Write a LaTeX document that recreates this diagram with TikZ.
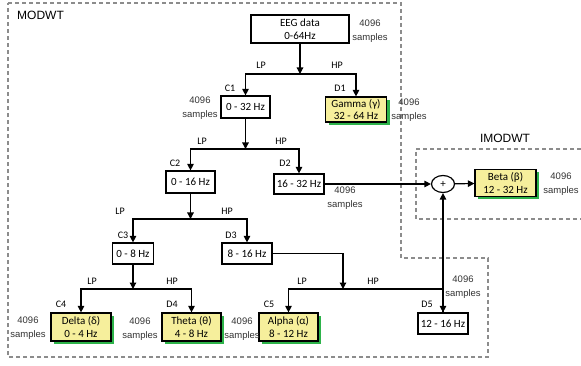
\documentclass[tikz,border=0pt]{standalone}
\usepackage{fontspec}
\setmainfont{Carlito}
\newfontfamily\arialfont{Liberation Sans}
\usepackage{tikz}
\usepackage{xcolor}
\usetikzlibrary{arrows.meta, shapes.geometric, shadows}
\definecolor{bandfill}{HTML}{F6EF9C}
\definecolor{bandshadow}{HTML}{2DB34A}
\definecolor{framegray}{HTML}{8C8C8C}
\definecolor{sampletext}{HTML}{333333}
\begin{document}
\begin{tikzpicture}[x=1pt, y=-1pt,
            >={Triangle[length=6.5pt, width=6.5pt]},
            box/.style={draw, line width=1.2pt, fill=white, inner sep=1pt, align=center, font=\fontsize{11}{12.5}\selectfont},
            band/.style={box, fill=bandfill, general shadow={fill=bandshadow, shadow xshift=3pt, shadow yshift=-3pt}},
            tag/.style={font=\fontsize{10}{11}\selectfont, inner sep=0pt},
            samplenote/.style={align=center, text=sampletext, font=\arialfont\fontsize{9.5}{14}\selectfont, inner sep=0pt},
            frame/.style={framegray, line width=1.1pt, dash pattern=on 4pt off 3pt},
            title/.style={font=\arialfont\fontsize{12}{13}\selectfont, inner sep=0pt},
            link/.style={line width=1.2pt}]
            \useasboundingbox (0,0) rectangle (581,366);
            \draw[frame] (8,3) -- (401,3) -- (401,258) -- (488,258) -- (488,357) -- (8,357) -- cycle;
            \draw[frame] (581,149) -- (416,149) -- (416,219) -- (581,219);
            \node[title, anchor=west] (modwt) at (17,15) {MODWT};
            \node[title] (imodwt) at (505,138) {IMODWT};
            \node[box, minimum width=98pt, minimum height=28pt] (eeg) at (300,29) {EEG data\\0-64Hz};
            \node[box, minimum width=49pt, minimum height=22pt] (c1) at (245.5,107) {0 - 32 Hz};
            \node[band, minimum width=61pt, minimum height=25pt] (gamma) at (356,109.5) {Gamma (γ)\\32 - 64 Hz};
            \node[box, minimum width=49pt, minimum height=22pt] (c2) at (190.5,182) {0 - 16 Hz};
            \node[box, minimum width=50pt, minimum height=20pt] (d2) at (299,184) {16 - 32 Hz};
            \node[ellipse, draw, line width=1.2pt, minimum width=23pt, minimum height=17pt, inner sep=0pt, font=\fontsize{11}{12}\selectfont] (plus) at (443,184) {+};
            \node[band, minimum width=61pt, minimum height=27pt] (beta) at (505.5,183) {Beta (β)\\12 - 32 Hz};
            \node[box, minimum width=41pt, minimum height=21pt] (c3) at (133,253.5) {0 - 8 Hz};
            \node[box, minimum width=50pt, minimum height=21pt] (d3) at (247,253.5) {8 - 16 Hz};
            \node[band, minimum width=60pt, minimum height=28pt] (delta) at (81,327) {Delta (δ)\\0 - 4 Hz};
            \node[band, minimum width=59pt, minimum height=28pt] (theta) at (191.5,327) {Theta (θ)\\4 - 8 Hz};
            \node[band, minimum width=59pt, minimum height=28pt] (alpha) at (288.5,327) {Alpha (α)\\8 - 12 Hz};
            \node[box, minimum width=50pt, minimum height=21pt] (d5) at (443,323.5) {12 - 16 Hz};
            \coordinate (j1) at (300,74);
            \coordinate (j2) at (245.5,149);
            \coordinate (j3) at (190.5,219);
            \coordinate (j4) at (133,289);
            \coordinate (j5) at (343,289);
            \draw[link, ->] (eeg) -- (j1);
            \draw[link, ->] (j1) -| (c1);
            \draw[link, ->] (j1) -| (gamma);
            \draw[link, ->] (c1) -- (j2);
            \draw[link, ->] (j2) -| (c2);
            \draw[link, ->] (j2) -| (d2);
            \draw[link, ->] (c2) -- (j3);
            \draw[link, ->] (j3) -| (c3);
            \draw[link, ->] (j3) -| (d3);
            \draw[link, ->] (c3) -- (j4);
            \draw[link, ->] (j4) -| (delta);
            \draw[link, ->] (j4) -| (theta);
            \draw[link, ->] (d3) -| (j5);
            \draw[link, ->] (j5) -| (alpha);
            \draw[link, ->] (j5) -| (d5);
            \draw[link, ->] (d5) -- (plus);
            \draw[link, ->] (d2) -- (plus);
            \draw[link, ->] (plus) -- (beta);
            \foreach \name/\x/\y/\txt in {lp1/261/65/LP, hp1/337/65/HP, lp2/202/141/LP, hp2/281/141/HP,
                                          lp3/120/211/LP, hp3/227/211/HP, lp4/92/281/LP, hp4/172/281/HP,
                                          lp5/302/281/LP, hp5/373/281/HP,
                                          c1t/230/88/C1, d1t/340/88/D1, c2t/175/163/C2, d2t/285/163/D2,
                                          c3t/123/235/C3, d3t/231/235/D3, c4t/61/304/C4, d4t/172/304/D4,
                                          c5t/269/304/C5, d5t/427/304/D5} {
                \node[tag] (\name) at (\x,\y) {\txt};
            }
            \foreach \name/\x/\y in {s0/370/31, s1/200/108, s2/409/110, s3/345/198, s4/561/184,
                                     s5/463/287, s6/28/328, s7/140/329, s8/242/329} {
                \node[samplenote] (\name) at (\x,\y) {4096\\samples};
            }
        \end{tikzpicture}
\end{document}
